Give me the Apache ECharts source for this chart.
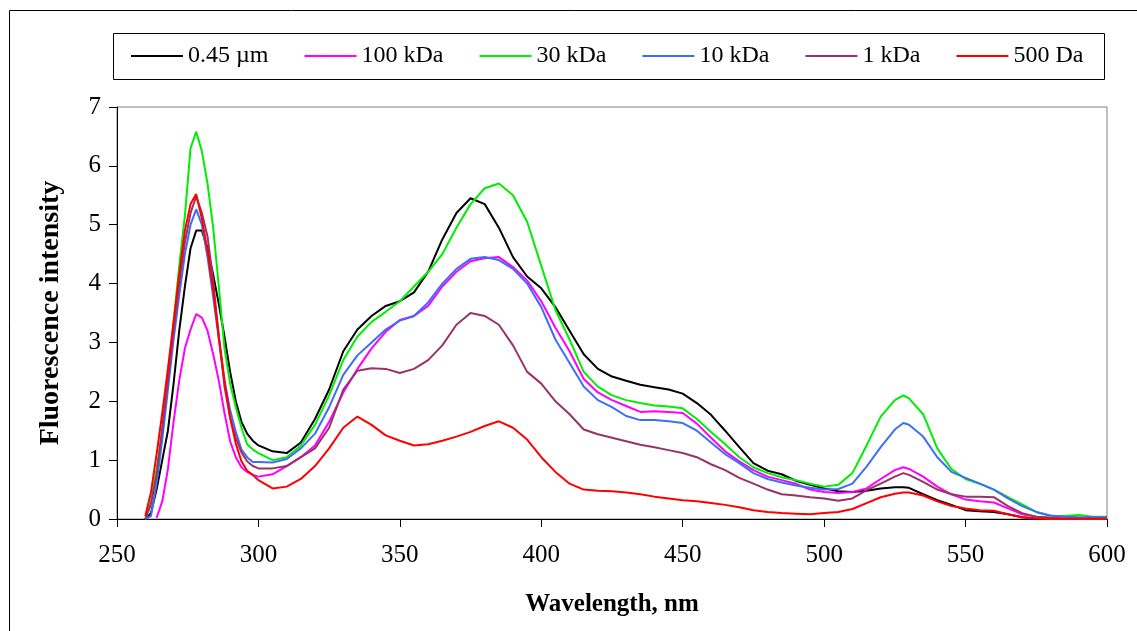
<!DOCTYPE html>
<html>
<head>
<meta charset="utf-8">
<script src="https://cdn.jsdelivr.net/npm/echarts@6/dist/echarts.min.js"></script>
<style>
  html, body { margin: 0; padding: 0; background: #fff; }
  #main { width: 1137px; height: 631px; }
</style>
</head>
<body>
<div id="main"></div>
<script>
// wavelength grid, nm
var wl = [260,262,264,266,268,270,272,274,276,278,280,282,284,286,288,290,292,294,296,298,300,
    305,310,315,320,325,330,335,340,345,350,355,360,365,370,375,380,385,390,395,400,
    405,410,415,420,425,430,435,440,445,450,455,460,465,470,475,480,485,490,495,500,
    505,510,515,520,525,528,530,535,540,545,550,555,560,565,570,575,580,585,590,595,600];

var names = ['0.45 µm', '100 kDa', '30 kDa', '10 kDa', '1 kDa', '500 Da'];
var colors = ['#000000', '#ff00ff', '#00ee00', '#3d6dfa', '#993366', '#ff0000'];

var fi_045 = [0,0.1,0.5,1.0,1.5,2.3,3.2,3.95,4.6,4.9,4.9,4.6,4.15,3.65,3.1,2.5,2.0,1.65,1.45,1.33,1.25,
    1.15,1.12,1.3,1.7,2.2,2.85,3.22,3.45,3.62,3.7,3.85,4.2,4.75,5.2,5.45,5.35,4.95,4.45,4.12,3.92,
    3.6,3.2,2.8,2.55,2.42,2.35,2.28,2.24,2.2,2.13,1.97,1.77,1.5,1.22,0.95,0.82,0.76,0.65,0.58,0.52,
    0.47,0.46,0.48,0.52,0.54,0.54,0.53,0.42,0.32,0.24,0.15,0.13,0.12,0.08,0.03,0.01,0,0,0,0,0];

var fi_100k = [null,null,0.02,0.3,0.85,1.65,2.35,2.9,3.22,3.48,3.42,3.2,2.8,2.35,1.8,1.32,1.05,0.88,0.8,0.75,0.72,
    0.76,0.9,1.05,1.25,1.65,2.15,2.55,2.9,3.18,3.38,3.45,3.62,3.95,4.2,4.38,4.43,4.45,4.28,4.05,3.7,
    3.25,2.85,2.38,2.15,2.02,1.92,1.82,1.83,1.82,1.8,1.62,1.38,1.15,0.98,0.83,0.72,0.66,0.6,0.5,0.46,
    0.44,0.46,0.52,0.68,0.83,0.88,0.85,0.72,0.55,0.42,0.33,0.3,0.28,0.18,0.08,0.04,0.02,0.01,0.01,0.01,0.01];

var fi_30k = [0,0.3,0.85,1.5,2.4,3.35,4.3,5.15,6.3,6.58,6.25,5.7,4.95,3.95,2.9,2.3,1.9,1.55,1.27,1.18,1.12,
    1.0,1.05,1.25,1.6,2.1,2.7,3.1,3.35,3.52,3.7,3.95,4.2,4.5,4.95,5.35,5.62,5.7,5.5,5.05,4.3,
    3.55,3.05,2.5,2.25,2.1,2.02,1.97,1.93,1.91,1.88,1.7,1.48,1.27,1.05,0.88,0.78,0.71,0.66,0.6,0.55,
    0.58,0.78,1.25,1.74,2.02,2.1,2.05,1.78,1.2,0.85,0.68,0.6,0.5,0.37,0.25,0.12,0.05,0.05,0.07,0.04,0.04];

var fi_10k = [0,0.05,0.6,1.35,2.2,3.05,3.8,4.5,5.0,5.26,5.0,4.45,3.78,3.05,2.35,1.85,1.48,1.18,1.05,0.97,0.97,
    0.96,1.02,1.2,1.45,1.9,2.45,2.78,3.0,3.22,3.37,3.45,3.68,4.0,4.25,4.42,4.45,4.4,4.25,4.0,3.6,
    3.05,2.65,2.25,2.02,1.9,1.75,1.68,1.68,1.66,1.63,1.5,1.3,1.1,0.95,0.78,0.68,0.62,0.57,0.53,0.5,
    0.51,0.6,0.89,1.22,1.52,1.63,1.6,1.4,1.05,0.8,0.7,0.6,0.5,0.35,0.22,0.12,0.06,0.04,0.03,0.03,0.03];

var fi_1k = [0,0.25,0.75,1.55,2.35,3.2,4.0,4.7,5.2,5.48,5.2,4.8,4.05,3.1,2.25,1.72,1.38,1.13,0.98,0.9,0.86,
    0.86,0.9,1.05,1.2,1.55,2.2,2.52,2.56,2.55,2.48,2.55,2.7,2.95,3.3,3.5,3.45,3.3,2.95,2.5,2.3,
    2.0,1.78,1.52,1.44,1.38,1.32,1.26,1.22,1.17,1.12,1.05,0.93,0.83,0.7,0.6,0.5,0.42,0.4,0.37,0.35,
    0.31,0.35,0.49,0.6,0.72,0.78,0.75,0.63,0.5,0.42,0.38,0.38,0.37,0.22,0.1,0.04,0.02,0.01,0.01,0.01,0.01];

var fi_500 = [0.05,0.45,1.1,1.8,2.55,3.35,4.15,4.9,5.35,5.52,5.1,4.55,3.89,3.1,2.35,1.72,1.28,0.98,0.82,0.75,0.66,
    0.52,0.55,0.68,0.9,1.2,1.55,1.74,1.6,1.42,1.33,1.25,1.27,1.33,1.4,1.48,1.58,1.66,1.55,1.35,1.05,
    0.8,0.6,0.5,0.48,0.47,0.45,0.42,0.38,0.35,0.32,0.3,0.27,0.24,0.2,0.15,0.12,0.1,0.09,0.08,0.1,
    0.12,0.17,0.27,0.37,0.43,0.45,0.45,0.4,0.3,0.22,0.18,0.15,0.14,0.08,0.03,0.01,0,0,0,0,0];

var xTicks = { min: 250, max: 600, step: 50 };
var yTicks = { min: 0, max: 7, step: 1 };

var allValues = [fi_045, fi_100k, fi_30k, fi_10k, fi_1k, fi_500];
var serif = "'Liberation Serif', 'Times New Roman', serif";

function pairs(vals) {
    var out = [];
    for (var i = 0; i < wl.length; i++) {
        out.push([wl[i], vals[i]]);
    }
    return out;
}

function drawChart() {
    var series = [];
    for (var k = 0; k < names.length; k++) {
        series.push({
            name: names[k],
            type: 'line',
            data: pairs(allValues[k]),
            symbol: 'none',
            connectNulls: false,
            lineStyle: { color: colors[k], width: 2 },
            itemStyle: { color: colors[k] }
        });
    }

    var option = {
        backgroundColor: '#FFFFFF',
        animation: false,
        color: colors,
        textStyle: { fontFamily: serif },
        graphic: [
            {   // chart area frame
                type: 'rect',
                shape: { x: 9.5, y: 10.5, width: 1300, height: 800 },
                style: { fill: 'none', stroke: '#000', lineWidth: 1 },
                z: -1
            },
            {   // legend box
                type: 'rect',
                shape: { x: 113.5, y: 33.5, width: 991, height: 46 },
                style: { fill: 'none', stroke: '#000', lineWidth: 1 },
                z: -1
            }
        ],
        legend: {
            data: names,
            left: 131,
            top: 44,
            padding: 0,
            icon: 'rect',
            itemWidth: 52,
            itemHeight: 2,
            itemGap: 36,
            textStyle: { color: '#000', fontSize: 24, fontFamily: serif }
        },
        grid: {
            left: 117,
            right: 30,
            top: 107,
            bottom: 112,
            show: true,
            borderColor: '#808080',
            borderWidth: 1
        },
        xAxis: {
            type: 'value',
            min: xTicks.min,
            max: xTicks.max,
            interval: xTicks.step,
            name: 'Wavelength, nm',
            nameLocation: 'middle',
            nameGap: 73,
            nameTextStyle: { color: '#000', fontSize: 25, fontWeight: 'bold', fontFamily: serif },
            axisLine: { lineStyle: { color: '#000', width: 1 } },
            axisTick: { show: true, inside: false, length: 8, lineStyle: { color: '#000' } },
            axisLabel: { color: '#000', fontSize: 25, margin: 24, fontFamily: serif },
            splitLine: { show: false }
        },
        yAxis: {
            type: 'value',
            min: yTicks.min,
            max: yTicks.max,
            interval: yTicks.step,
            name: 'Fluorescence intensity',
            nameLocation: 'middle',
            nameGap: 52,
            nameTextStyle: { color: '#000', fontSize: 28, fontWeight: 'bold', fontFamily: serif },
            axisLine: { show: true, lineStyle: { color: '#000', width: 1 } },
            axisTick: { show: true, inside: false, length: 8, lineStyle: { color: '#000' } },
            axisLabel: { color: '#000', fontSize: 25, margin: 16, fontFamily: serif },
            splitLine: { show: false }
        },
        series: series
    };

    var myChart = echarts.init(document.getElementById('main'));
    myChart.setOption(option);
    window.addEventListener("resize", function () {
        myChart.resize();
    });
}

drawChart();
</script>
</body>
</html>
